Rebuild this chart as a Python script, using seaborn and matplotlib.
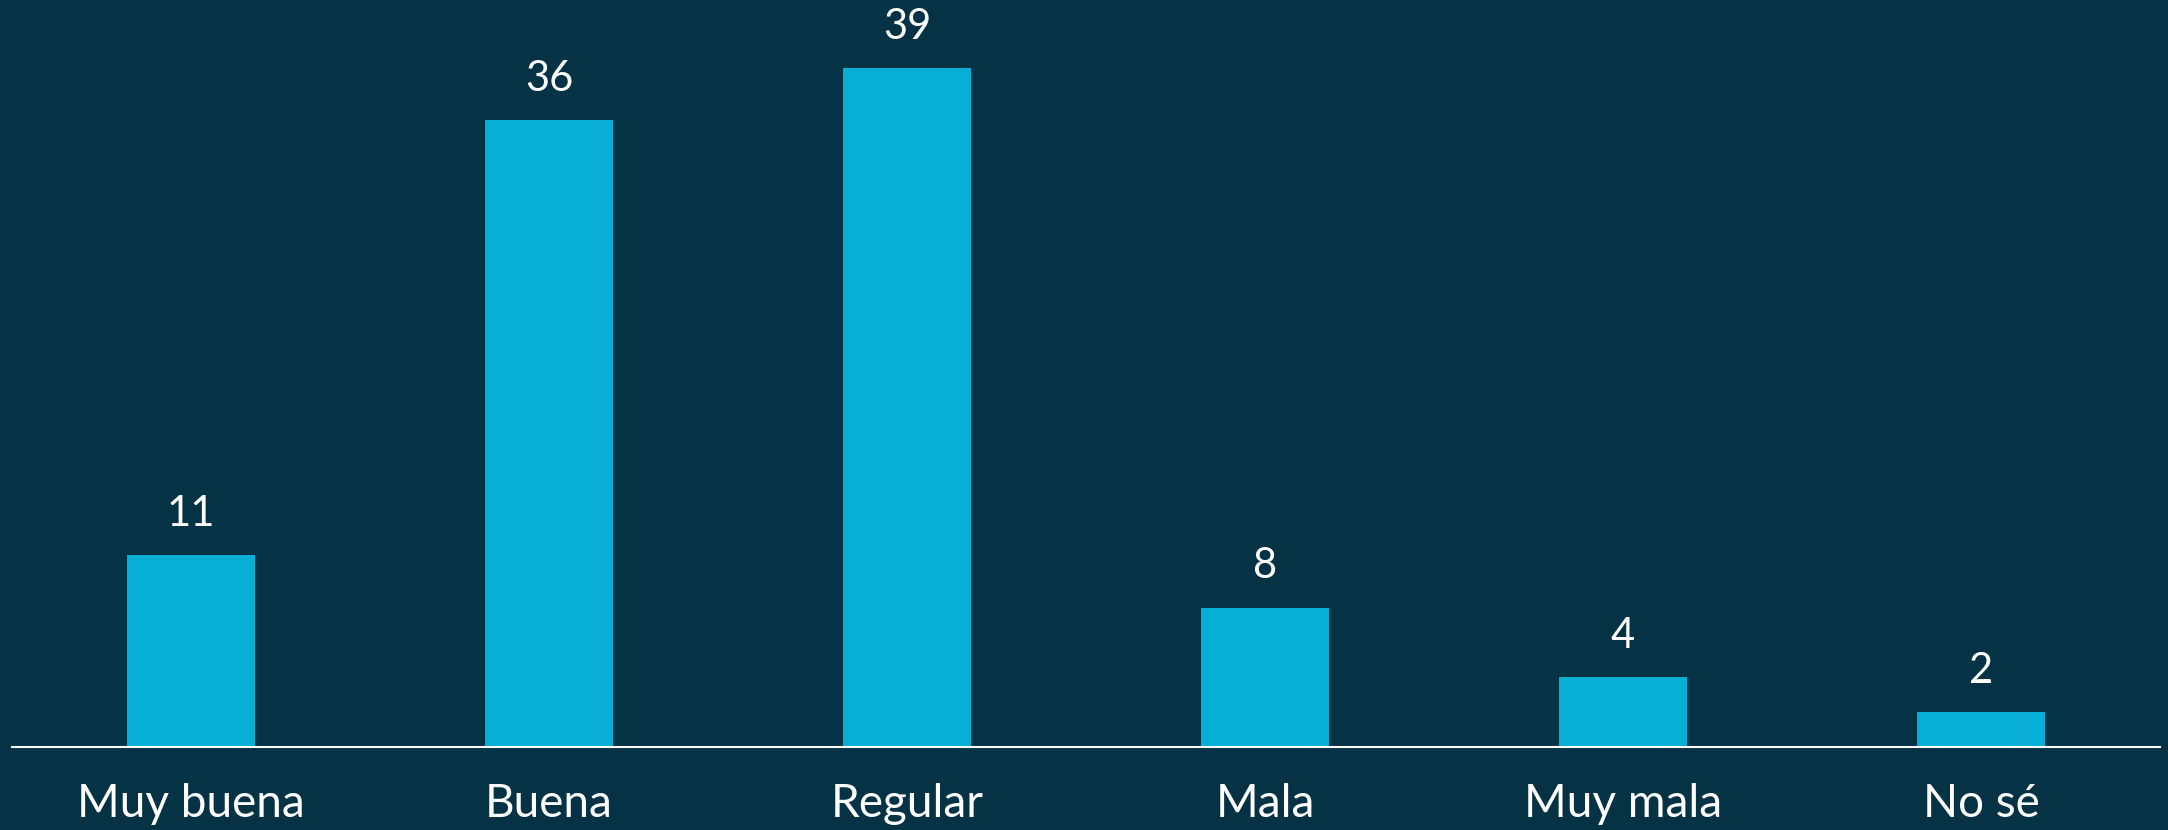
import matplotlib
matplotlib.use('Agg')
import matplotlib.pyplot as plt
import seaborn as sns
import pandas as pd

# --- Data ---
categories = ['Muy buena', 'Buena', 'Regular', 'Mala', 'Muy mala', 'No sé']
values = [11, 36, 39, 8, 4, 2]

bg_color = '#053345'
bar_color = '#07AFD6'

df = pd.DataFrame({'Respuesta': categories, 'Porcentaje': values})

sns.set_theme(style='white')
plt.rcParams['font.family'] = ['Lato', 'DejaVu Sans']

fig = plt.figure(figsize=(21.68, 8.30), dpi=100, facecolor=bg_color)
ax = fig.add_axes([12 / 2168, 0.1, 2148 / 2168, 0.9])
ax.set_facecolor(bg_color)

sns.barplot(data=df, x='Respuesta', y='Porcentaje', color=bar_color,
            width=0.355, saturation=1, edgecolor='none', linewidth=0, ax=ax)

# value labels above bars
for container in ax.containers:
    ax.bar_label(container, labels=[str(v) for v in values], padding=16,
                 color='white', fontsize=30)

ax.set_xlim(-0.5, 5.5)
ax.set_ylim(0, 42.9)
ax.set_xlabel('')
ax.set_ylabel('')
ax.set_yticks([])
ax.tick_params(axis='x', length=0, pad=26, labelsize=33, colors='white')

for side in ['top', 'right', 'left']:
    ax.spines[side].set_visible(False)
ax.spines['bottom'].set_color('white')
ax.spines['bottom'].set_linewidth(1.5)

fig.savefig('out.png', dpi=100, facecolor=bg_color)
